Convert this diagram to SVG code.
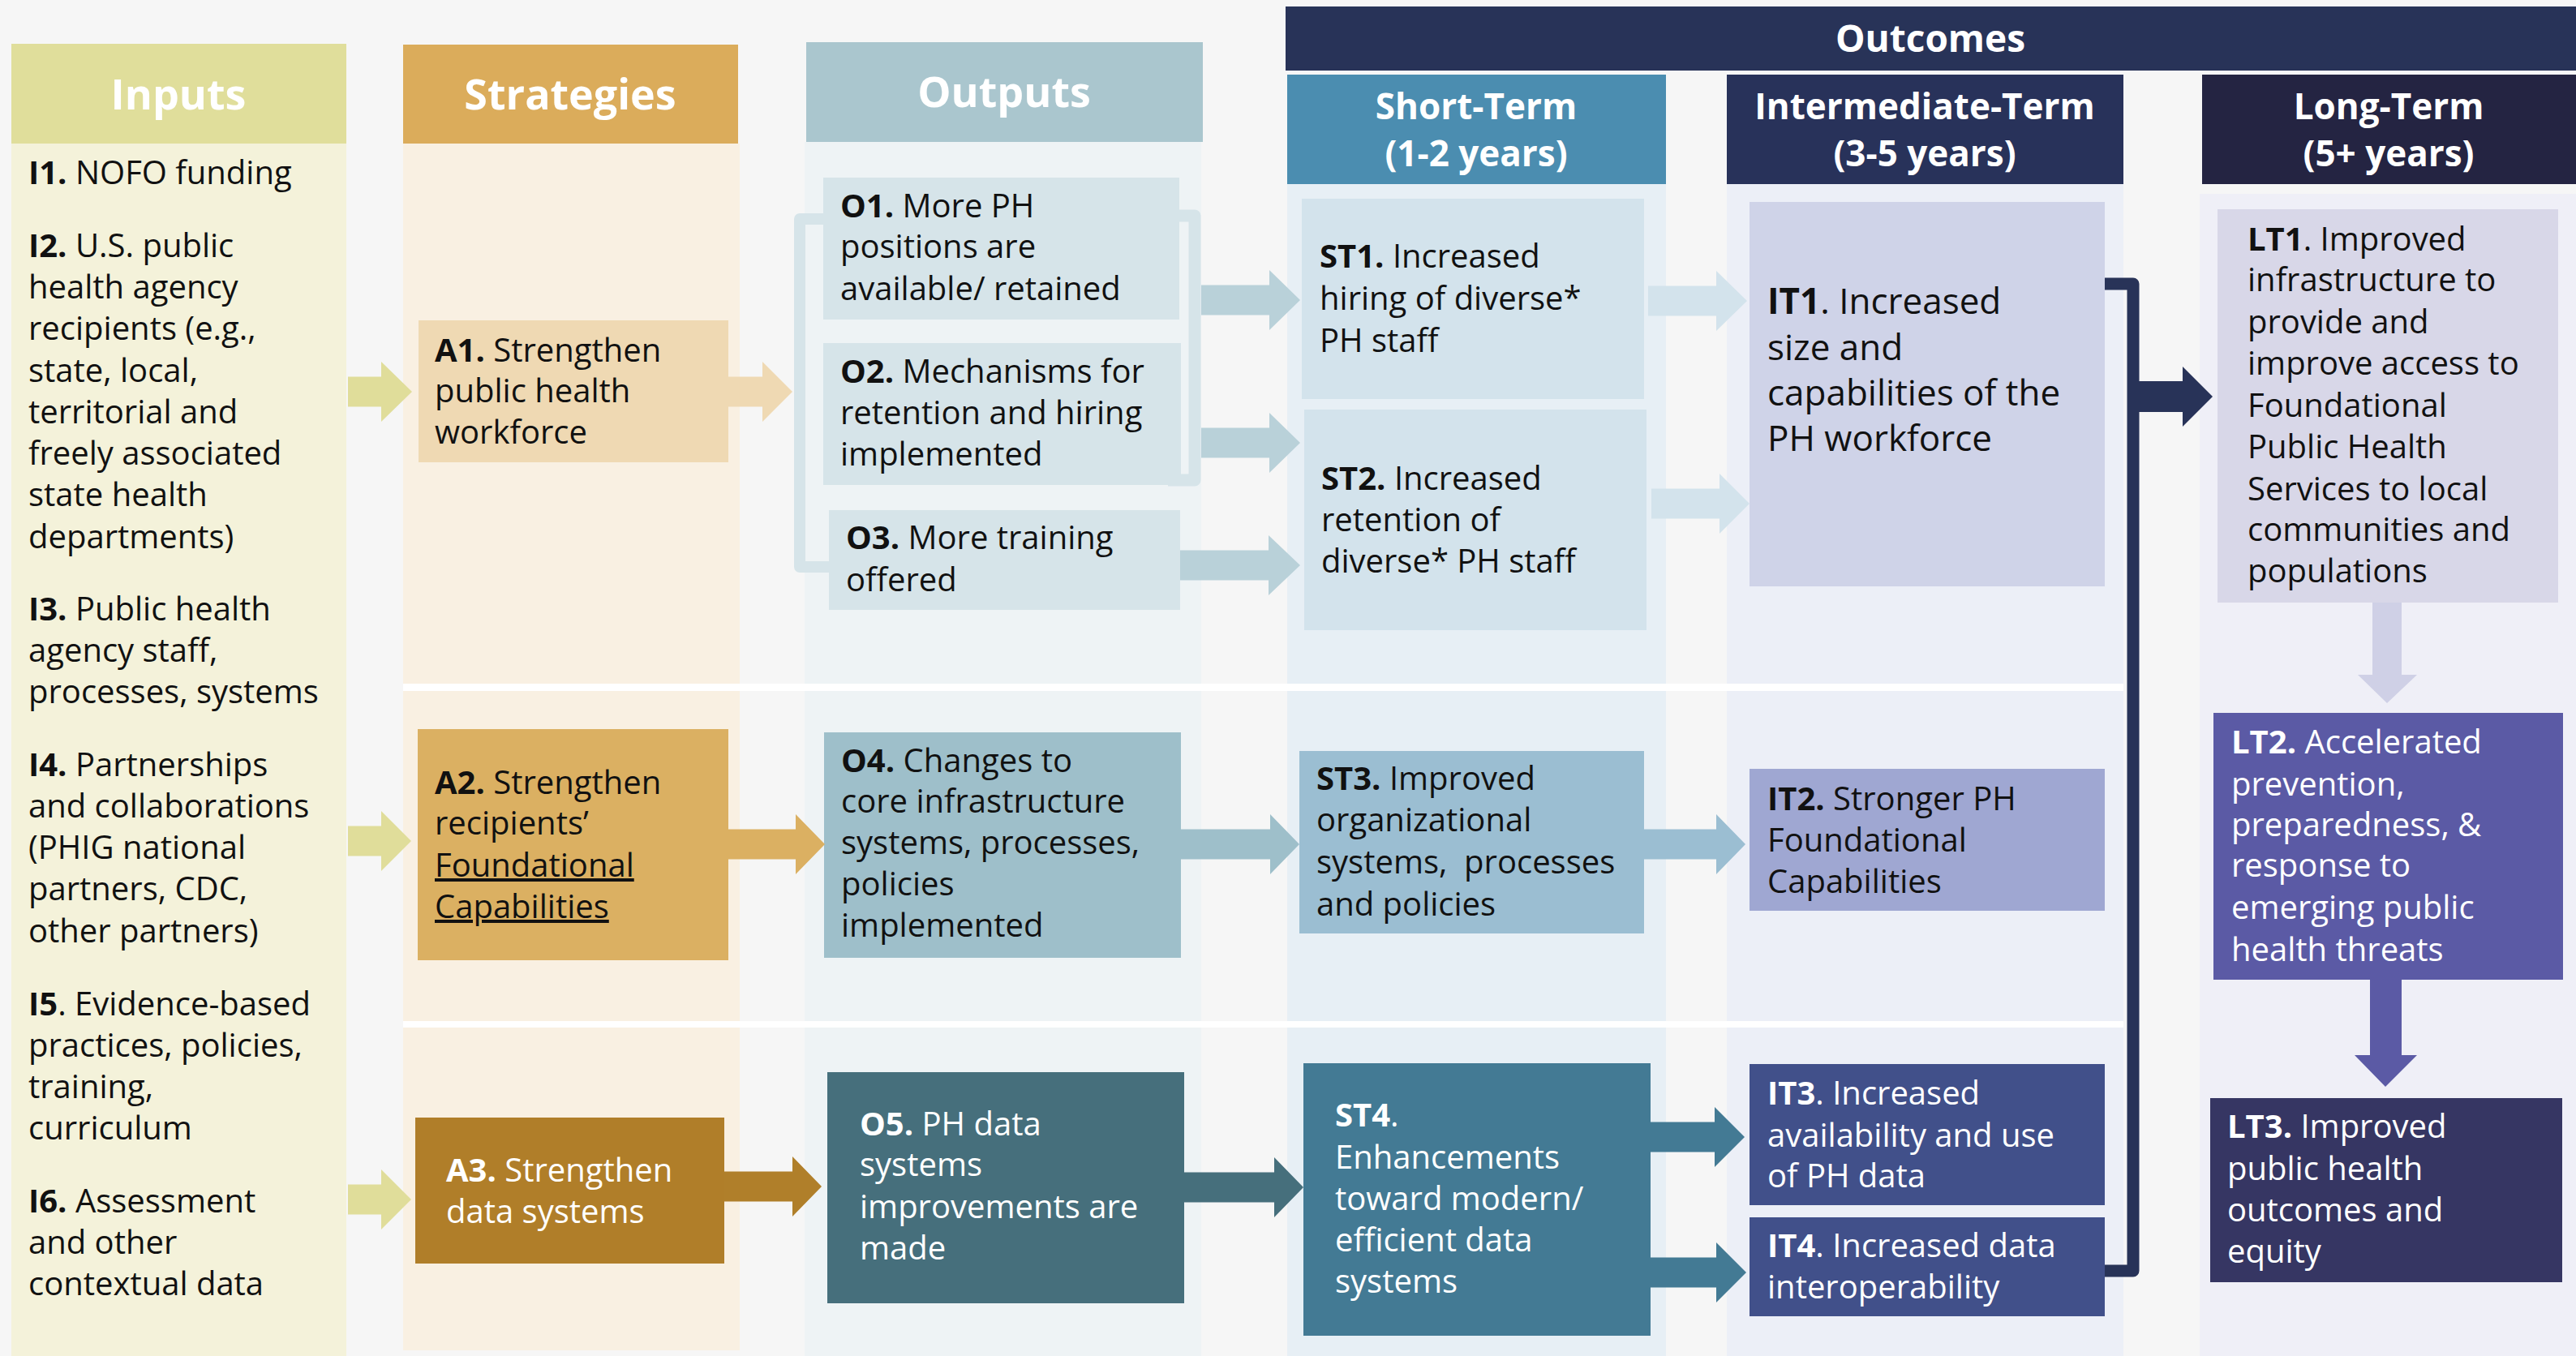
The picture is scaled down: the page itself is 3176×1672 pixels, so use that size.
<svg xmlns="http://www.w3.org/2000/svg" width="3176" height="1672" viewBox="0 0 3176 1672">
<style>
text{font-family:"Open Sans","Liberation Sans",sans-serif;font-size:40px;fill:#111}
.b{font-weight:700}
.w{fill:#fff}
.h1{font-weight:700;font-size:52px;fill:#fff;text-anchor:middle}
.h2{font-weight:700;font-size:44px;fill:#fff;text-anchor:middle}
.big{font-size:44px}
.u{text-decoration:underline}
</style>
<rect x="0" y="0" width="3176" height="1672" fill="#f6f6f6"/>
<g id="columns">
<rect x="14" y="177" width="413" height="1495" fill="#f4f2da"/>
<rect x="14" y="54" width="413" height="123" fill="#e0de9b"/>
<rect x="497" y="177" width="415" height="1488" fill="#f9f0e2"/>
<rect x="497" y="55" width="413" height="122" fill="#dbac5b"/>
<rect x="992" y="175" width="489" height="1497" fill="#eef3f5"/>
<rect x="994" y="52" width="489" height="123" fill="#aac6ce"/>
<rect x="1585" y="8" width="1591" height="79" fill="#283358"/>
<rect x="1587" y="227" width="467" height="1445" fill="#e7eff5"/>
<rect x="1587" y="92" width="467" height="135" fill="#4b8db0"/>
<rect x="2129" y="227" width="489" height="1445" fill="#eceff7"/>
<rect x="2129" y="92" width="489" height="135" fill="#28325a"/>
<rect x="2712" y="239" width="464" height="1433" fill="#efeff7"/>
<rect x="2715" y="92" width="461" height="135" fill="#242442"/>
<rect x="497" y="843" width="2121" height="9" fill="#fff"/>
<rect x="497" y="1259" width="2121" height="8" fill="#fff"/>
<text class="h1" x="220" y="135">Inputs</text>
<text class="h1" x="703" y="135">Strategies</text>
<text class="h1" x="1238" y="132">Outputs</text>
<text class="h2" x="2380" y="64" style="font-size:46px">Outcomes</text>
<text class="h2" x="1820" y="147">Short-Term</text>
<text class="h2" x="1820" y="205">(1-2 years)</text>
<text class="h2" x="2373" y="147">Intermediate-Term</text>
<text class="h2" x="2373" y="205">(3-5 years)</text>
<text class="h2" x="2945" y="147">Long-Term</text>
<text class="h2" x="2945" y="205">(5+ years)</text>
</g>
<g id="inputs">
<text x="35" y="227"><tspan class="b">I1.</tspan> NOFO funding</text>
<text x="35" y="317"><tspan class="b">I2.</tspan> U.S. public</text>
<text x="35" y="368">health agency</text>
<text x="35" y="419">recipients (e.g.,</text>
<text x="35" y="471">state, local,</text>
<text x="35" y="522">territorial and</text>
<text x="35" y="573">freely associated</text>
<text x="35" y="624">state health</text>
<text x="35" y="676">departments)</text>
<text x="35" y="765"><tspan class="b">I3.</tspan> Public health</text>
<text x="35" y="816">agency staff,</text>
<text x="35" y="867">processes, systems</text>
<text x="35" y="957"><tspan class="b">I4.</tspan> Partnerships</text>
<text x="35" y="1008">and collaborations</text>
<text x="35" y="1059">(PHIG national</text>
<text x="35" y="1110">partners, CDC,</text>
<text x="35" y="1162">other partners)</text>
<text x="35" y="1252"><tspan class="b">I5</tspan>. Evidence-based</text>
<text x="35" y="1303">practices, policies,</text>
<text x="35" y="1354">training,</text>
<text x="35" y="1405">curriculum</text>
<text x="35" y="1495"><tspan class="b">I6.</tspan> Assessment</text>
<text x="35" y="1546">and other</text>
<text x="35" y="1597">contextual data</text>
</g>
<g id="A1"><rect x="516" y="395" width="382" height="175" fill="#efd9b3"/>
<text x="536" y="446"><tspan class="b">A1.</tspan> Strengthen</text><text x="536" y="496">public health</text><text x="536" y="547">workforce</text></g>
<g id="A2"><rect x="515" y="899" width="383" height="285" fill="#dbb062"/>
<text x="536" y="979"><tspan class="b">A2.</tspan> Strengthen</text><text x="536" y="1029">recipients’</text><text x="536" y="1081" class="u">Foundational</text><text x="536" y="1132" class="u">Capabilities</text></g>
<g id="A3"><rect x="512" y="1378" width="381" height="180" fill="#b07e29"/>
<text class="w" x="550" y="1457"><tspan class="b">A3.</tspan> Strengthen</text><text class="w" x="550" y="1508">data systems</text></g>
<g id="O1"><rect x="1015" y="219" width="439" height="175" fill="#d6e4e9"/>
<text x="1036" y="268"><tspan class="b">O1.</tspan> More PH</text><text x="1036" y="318">positions are</text><text x="1036" y="370">available/ retained</text></g>
<g id="O2"><rect x="1015" y="423" width="441" height="175" fill="#d6e4e9"/>
<text x="1036" y="472"><tspan class="b">O2.</tspan> Mechanisms for</text><text x="1036" y="523">retention and hiring</text><text x="1036" y="574">implemented</text></g>
<g id="O3"><rect x="1022" y="629" width="433" height="123" fill="#d6e4e9"/>
<text x="1043" y="677"><tspan class="b">O3.</tspan> More training</text><text x="1043" y="729">offered</text></g>
<g id="O4"><rect x="1016" y="903" width="440" height="278" fill="#9ebfca"/>
<text x="1037" y="952"><tspan class="b">O4.</tspan> Changes to</text><text x="1037" y="1002">core infrastructure</text><text x="1037" y="1053">systems, processes,</text><text x="1037" y="1104">policies</text><text x="1037" y="1155">implemented</text></g>
<g id="O5"><rect x="1020" y="1322" width="440" height="285" fill="#466f7c"/>
<text class="w" x="1060" y="1400"><tspan class="b">O5.</tspan> PH data</text><text class="w" x="1060" y="1450">systems</text><text class="w" x="1060" y="1502">improvements are</text><text class="w" x="1060" y="1553">made</text></g>
<g id="ST1"><rect x="1605" y="245" width="422" height="247" fill="#d3e3ec"/>
<text x="1627" y="330"><tspan class="b">ST1.</tspan> Increased</text><text x="1627" y="382">hiring of diverse*</text><text x="1627" y="434">PH staff</text></g>
<g id="ST2"><rect x="1608" y="505" width="422" height="272" fill="#d3e3ec"/>
<text x="1629" y="604"><tspan class="b">ST2.</tspan> Increased</text><text x="1629" y="655">retention of</text><text x="1629" y="706">diverse* PH staff</text></g>
<g id="ST3"><rect x="1602" y="926" width="425" height="225" fill="#9bbed2"/>
<text x="1623" y="974"><tspan class="b">ST3.</tspan> Improved</text><text x="1623" y="1025">organizational</text><text x="1623" y="1077" xml:space="preserve">systems,  processes</text><text x="1623" y="1129">and policies</text></g>
<g id="ST4"><rect x="1607" y="1311" width="428" height="336" fill="#437a94"/>
<text class="w" x="1646" y="1389"><tspan class="b">ST4</tspan>.</text><text class="w" x="1646" y="1441">Enhancements</text><text class="w" x="1646" y="1492">toward modern/</text><text class="w" x="1646" y="1543">efficient data</text><text class="w" x="1646" y="1594">systems</text></g>
<g id="IT1"><rect x="2157" y="249" width="438" height="474" fill="#cfd3e8"/>
<text class="big" x="2179" y="387"><tspan class="b">IT1</tspan>. Increased</text><text class="big" x="2179" y="444">size and</text><text class="big" x="2179" y="500">capabilities of the</text><text class="big" x="2179" y="556">PH workforce</text></g>
<g id="IT2"><rect x="2157" y="948" width="438" height="175" fill="#9fa7d2"/>
<text x="2179" y="999"><tspan class="b">IT2.</tspan> Stronger PH</text><text x="2179" y="1050">Foundational</text><text x="2179" y="1101">Capabilities</text></g>
<g id="IT3"><rect x="2157" y="1312" width="438" height="174" fill="#41508a"/>
<text class="w" x="2179" y="1362"><tspan class="b">IT3</tspan>. Increased</text><text class="w" x="2179" y="1414">availability and use</text><text class="w" x="2179" y="1464">of PH data</text></g>
<g id="IT4"><rect x="2157" y="1501" width="438" height="122" fill="#41508a"/>
<text class="w" x="2179" y="1550"><tspan class="b">IT4</tspan>. Increased data</text><text class="w" x="2179" y="1601">interoperability</text></g>
<g id="LT1"><rect x="2734" y="258" width="420" height="485" fill="#d8d7e8"/>
<text x="2771" y="309"><tspan class="b">LT1</tspan>. Improved</text><text x="2771" y="359">infrastructure to</text><text x="2771" y="411">provide and</text><text x="2771" y="462">improve access to</text><text x="2771" y="514">Foundational</text><text x="2771" y="565">Public Health</text><text x="2771" y="617">Services to local</text><text x="2771" y="667">communities and</text><text x="2771" y="718">populations</text></g>
<g id="LT2"><rect x="2729" y="879" width="431" height="329" fill="#5b5aa5"/>
<text class="w" x="2751" y="929"><tspan class="b">LT2.</tspan> Accelerated</text><text class="w" x="2751" y="981">prevention,</text><text class="w" x="2751" y="1031">preparedness, &amp;</text><text class="w" x="2751" y="1081">response to</text><text class="w" x="2751" y="1133">emerging public</text><text class="w" x="2751" y="1185">health threats</text></g>
<g id="LT3"><rect x="2725" y="1354" width="434" height="227" fill="#363663"/>
<text class="w" x="2746" y="1403"><tspan class="b">LT3.</tspan> Improved</text><text class="w" x="2746" y="1455">public health</text><text class="w" x="2746" y="1506">outcomes and</text><text class="w" x="2746" y="1557">equity</text></g>
<g id="connectors">
<path d="M1015 270 H986 V699 H1022" fill="none" stroke="#d6e4e9" stroke-width="14" stroke-linejoin="round"/>
<path d="M1454 266 H1473 V592 H1440" fill="none" stroke="#d6e4e9" stroke-width="15" stroke-linejoin="round"/>
<path d="M2595 350 H2630 V1567 H2595" fill="none" stroke="#283358" stroke-width="15" stroke-linejoin="round"/>
<polygon fill="#e0dd9a" points="429,464.5 470,464.5 470,446 508,483 470,520 470,501.5 429,501.5"/>
<polygon fill="#e0dd9a" points="429,1018.5 470,1018.5 470,1000 507,1037 470,1074 470,1055.5 429,1055.5"/>
<polygon fill="#e0dd9a" points="429,1460.5 470,1460.5 470,1442 507,1479 470,1516 470,1497.5 429,1497.5"/>
<polygon fill="#efd9b3" points="898,464.5 940,464.5 940,446 977,483 940,520 940,501.5 898,501.5"/>
<polygon fill="#dbb062" points="898,1022.5 981,1022.5 981,1004 1017,1041 981,1078 981,1059.5 898,1059.5"/>
<polygon fill="#b07f2a" points="893,1444.5 977,1444.5 977,1426 1013,1463 977,1500 977,1481.5 893,1481.5"/>
<polygon fill="#b9d1d9" points="1481,351.5 1565,351.5 1565,333 1603,370 1565,407 1565,388.5 1481,388.5"/>
<polygon fill="#b9d1d9" points="1481,527.5 1565,527.5 1565,509 1603,546 1565,583 1565,564.5 1481,564.5"/>
<polygon fill="#b9d1d9" points="1455,678.5 1564,678.5 1564,660 1603,697 1564,734 1564,715.5 1455,715.5"/>
<polygon fill="#9ebfca" points="1456,1022.5 1566,1022.5 1566,1004 1602,1041 1566,1078 1566,1059.5 1456,1059.5"/>
<polygon fill="#466f7c" points="1460,1445.5 1571,1445.5 1571,1427 1607,1464 1571,1501 1571,1482.5 1460,1482.5"/>
<polygon fill="#d3e3ec" points="2032,352.5 2116,352.5 2116,334 2154,371 2116,408 2116,389.5 2032,389.5"/>
<polygon fill="#d3e3ec" points="2036,602.5 2120,602.5 2120,584 2157,621 2120,658 2120,639.5 2036,639.5"/>
<polygon fill="#9bbed2" points="2027,1022.5 2116,1022.5 2116,1004 2152,1041 2116,1078 2116,1059.5 2027,1059.5"/>
<polygon fill="#437a94" points="2035,1383.5 2114,1383.5 2114,1365 2151,1402 2114,1439 2114,1420.5 2035,1420.5"/>
<polygon fill="#437a94" points="2035,1550.5 2116,1550.5 2116,1532 2153,1569 2116,1606 2116,1587.5 2035,1587.5"/>
<polygon fill="#283358" points="2636,470 2691,470 2691,452 2728,489 2691,526 2691,508 2636,508"/>
<polygon fill="#cfd0e6" points="2925,743 2961,743 2961,832 2980,832 2943,867 2907,832 2925,832"/>
<polygon fill="#5b5aa5" points="2922,1208 2961,1208 2961,1301 2980,1301 2941,1340 2903,1301 2922,1301"/>
</g>
</svg>
